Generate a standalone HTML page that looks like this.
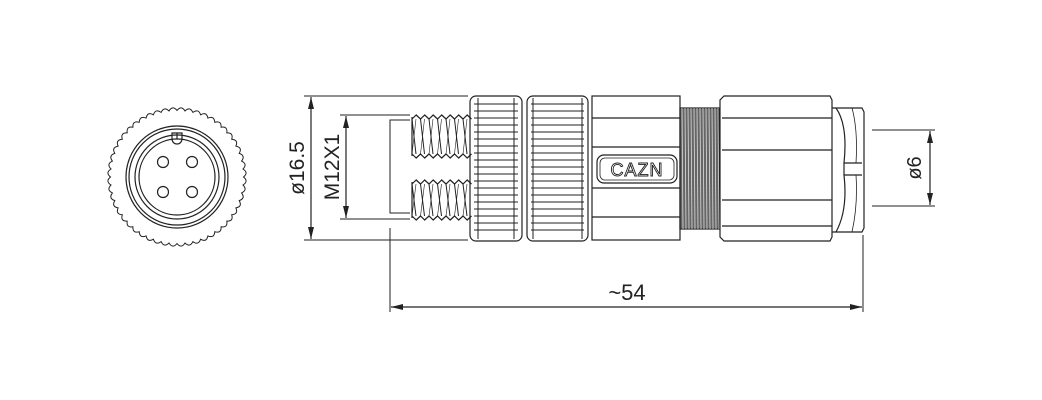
<!DOCTYPE html>
<html><head><meta charset="utf-8"><style>
html,body{margin:0;padding:0;background:#fff;width:1042px;height:400px;overflow:hidden}
text{font-family:"Liberation Sans",sans-serif;fill:#222;stroke:none}
</style></head><body>
<svg id="s" width="1042" height="400" viewBox="0 0 1042 400" xmlns="http://www.w3.org/2000/svg" fill="none" stroke="#222" stroke-width="1.2">
<defs>
<marker id="a" viewBox="0 0 12 6" refX="12" refY="3" markerWidth="12" markerHeight="6" orient="auto-start-reverse" markerUnits="userSpaceOnUse"><path d="M0,0L12,3L0,6Z" fill="#222" stroke="none"/></marker>
</defs>
<g id="knurl"></g>
<circle cx="177" cy="177" r="51"/>
<circle cx="177" cy="177" r="48"/>
<circle cx="177" cy="177" r="42"/>
<circle cx="177" cy="177" r="38"/>
<path d="M172,139 L172,133 L182,133 L182,139 A5,5 0 0 1 172,139Z"/>
<line x1="177" y1="133" x2="177" y2="139"/>
<circle cx="163" cy="162" r="5.5"/><circle cx="192" cy="162" r="5.5"/>
<circle cx="163" cy="192" r="5.5"/><circle cx="192" cy="192" r="5.5"/>

<line x1="304" y1="96" x2="468" y2="96" stroke-width="1"/>
<line x1="304" y1="240" x2="468" y2="240" stroke-width="1"/>
<line x1="311" y1="97" x2="311" y2="239" marker-start="url(#a)" marker-end="url(#a)"/>
<text transform="translate(304,168) rotate(-90)" text-anchor="middle" font-size="21">ø16.5</text>
<line x1="340" y1="115" x2="410" y2="115" stroke-width="1"/>
<line x1="340" y1="219" x2="410" y2="219" stroke-width="1"/>
<line x1="346" y1="116" x2="346" y2="218" marker-start="url(#a)" marker-end="url(#a)"/>
<text transform="translate(339,167) rotate(-90)" text-anchor="middle" font-size="21">M12X1</text>
<path d="M410,120 L390,120 L390,213 L410,213" stroke-width="1"/>
<line x1="390" y1="228" x2="390" y2="312" stroke-width="1"/>
<line x1="863" y1="235" x2="863" y2="312" stroke-width="1"/>
<line x1="391" y1="307" x2="862" y2="307" marker-start="url(#a)" marker-end="url(#a)"/>
<text x="627" y="300" text-anchor="middle" font-size="22">~54</text>
<line x1="872" y1="130" x2="935" y2="130" stroke-width="1"/>
<line x1="872" y1="206" x2="935" y2="206" stroke-width="1"/>
<line x1="930" y1="131" x2="930" y2="205" marker-start="url(#a)" marker-end="url(#a)"/>
<text transform="translate(921,168) rotate(-90)" text-anchor="middle" font-size="20">ø6</text>

<g id="threads"></g>
<rect x="470" y="96" width="52" height="145" rx="6"/>
<rect x="527" y="96" width="61" height="145" rx="6"/>
<g id="ribs" stroke-width="1"></g>
<rect x="592" y="96" width="88" height="144"/>
<line x1="592" y1="118" x2="680" y2="118"/><line x1="592" y1="147" x2="680" y2="147"/>
<line x1="592" y1="188" x2="680" y2="188"/><line x1="592" y1="217" x2="680" y2="217"/>
<rect x="597" y="155" width="80" height="28" rx="7"/>
<rect x="600" y="158" width="74" height="22" rx="5" stroke-width="0.8"/>
<text x="637" y="176" text-anchor="middle" font-size="18" style="fill:#fff;stroke:#222;stroke-width:0.9" letter-spacing="1">CAZN</text>
<rect x="680" y="108" width="39" height="121" fill="#666" stroke="#222"/>
<g id="band"></g>
<path d="M724,96 L830,96 L832,100 L832,237 L830,241 L724,241 L720,237 L720,100Z"/>
<line x1="722" y1="118" x2="832" y2="118"/><line x1="722" y1="150" x2="832" y2="150"/>
<line x1="722" y1="200" x2="832" y2="200"/><line x1="722" y1="226" x2="832" y2="226"/>
<path d="M832,108 L862,108 L864,112 L864,228 L862,232 L832,232"/>
<path d="M836,108 Q848,125 844,163 L862,163 M844,163 L844,175 L862,175 M844,175 Q848,210 836,232"/>
<path d="M852,108 Q858,130 856,163 M856,175 Q858,205 852,232" stroke-width="0.8"/>
</svg>
<script>
var NS="http://www.w3.org/2000/svg";
function el(p,t,a){var e=document.createElementNS(NS,t);for(var k in a)e.setAttribute(k,a[k]);p.appendChild(e);return e;}
var g=document.getElementById('knurl'),d="",n=52,cx=177,cy=177;
for(var i=0;i<n;i++){var a0=i*2*Math.PI/n,a1=(i+0.5)*2*Math.PI/n,a2=(i+1)*2*Math.PI/n,r0=66.5,r1=70.5;
 var p=function(r,a){return (cx+r*Math.cos(a)).toFixed(1)+","+(cy+r*Math.sin(a)).toFixed(1);};
 d+=(i?"":"M"+p(r0,a0))+" Q"+p(r1+1.5,a1)+" "+p(r0,a2);}
el(g,'path',{d:d+"Z",'stroke-width':1});
var t=document.getElementById('threads');
function thread(y1,y2){var d="M412,"+y1;for(var x=412;x<466;x+=8.5){d+=" L"+(x+4.2)+","+(y1-4)+" L"+(x+8.5)+","+y1;}
 el(t,'path',{d:d});d="M412,"+y2;for(var x=412;x<466;x+=8.5){d+=" L"+(x+4.2)+","+(y2+4)+" L"+(x+8.5)+","+y2;}el(t,'path',{d:d});
 for(var x=412;x<=466;x+=8.5){el(t,'line',{x1:x,y1:y1,x2:x+4,y2:y2,'stroke-width':1});el(t,'line',{x1:x+4,y1:y1,x2:x,y2:y2,'stroke-width':0.6});}
 el(t,'line',{x1:412,y1:y1-2,x2:412,y2:y2+2});}
thread(119,154);thread(184,216);
var r=document.getElementById('ribs');
for(var y=104;y<236;y+=7){el(r,'line',{x1:474,y1:y,x2:518,y2:y});el(r,'line',{x1:531,y1:y,x2:584,y2:y});}
el(r,'line',{x1:478,y1:98,x2:478,y2:239});el(r,'line',{x1:514,y1:98,x2:514,y2:239});
el(r,'line',{x1:533,y1:98,x2:533,y2:239});el(r,'line',{x1:582,y1:98,x2:582,y2:239});
var b=document.getElementById('band');
for(var x=682;x<719;x+=3)el(b,'line',{x1:x,y1:108,x2:x+1,y2:229,stroke:'#ddd','stroke-width':0.8});
</script>
</body></html>
